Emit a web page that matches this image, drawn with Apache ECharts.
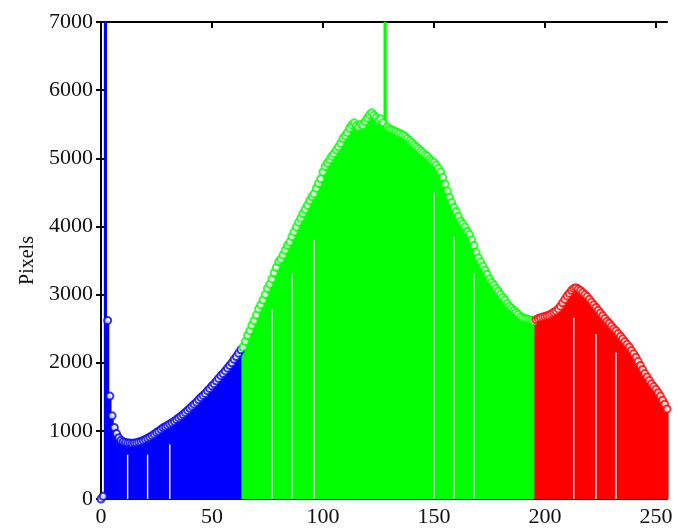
<!DOCTYPE html>
<html lang="en">
<head>
<meta charset="UTF-8">
<title>Pixels histogram</title>
<script src="https://cdn.jsdelivr.net/npm/echarts@6/dist/echarts.min.js"></script>
<style>
  html, body { margin: 0; padding: 0; background: #fff; }
  #chartmain { width: 678px; height: 528px; }
</style>
</head>
<body>
<div id="chartmain"></div>
<script type="text/javascript">
// histogram counts, bins 0..63 / 64..195 / 196..255
var blueCounts = [
  0, 40, 7500, 2620, 1510, 1220, 1050, 960, 900, 860,
  840, 830, 820, 820, 815, 820, 825, 835, 845, 860,
  875, 890, 910, 930, 950, 975, 995, 1020, 1045, 1060,
  1080, 1100, 1120, 1140, 1165, 1190, 1215, 1240, 1270, 1300,
  1330, 1360, 1390, 1420, 1455, 1490, 1520, 1550, 1590, 1620,
  1660, 1690, 1730, 1770, 1810, 1840, 1880, 1920, 1960, 2000,
  2050, 2090, 2140, 2190
];
var greenCounts = [
  2230, 2310, 2400, 2470, 2550, 2620, 2700, 2790, 2850, 2920,
  3000, 3090, 3150, 3230, 3320, 3400, 3480, 3520, 3580, 3650,
  3720, 3770, 3850, 3920, 3990, 4060, 4120, 4190, 4250, 4310,
  4380, 4440, 4480, 4560, 4630, 4700, 4800, 4880, 4930, 4980,
  5030, 5070, 5120, 5170, 5220, 5290, 5330, 5380, 5440, 5490,
  5520, 5480, 5460, 5500, 5480, 5540, 5590, 5640, 5670, 5630,
  5600, 5560, 5580, 5520, 7500, 5460, 5430, 5420, 5400, 5390,
  5370, 5360, 5340, 5320, 5290, 5260, 5230, 5200, 5170, 5140,
  5110, 5080, 5050, 5030, 4990, 4960, 4940, 4900, 4850, 4800,
  4720, 4620, 4520, 4430, 4350, 4280, 4220, 4150, 4080, 4040,
  3990, 3930, 3880, 3800, 3720, 3620, 3540, 3480, 3420, 3360,
  3300, 3230, 3180, 3140, 3090, 3050, 3000, 2960, 2920, 2870,
  2830, 2800, 2770, 2740, 2710, 2680, 2660, 2650, 2640, 2630,
  2620, 2610
];
var redCounts = [
  2630, 2650, 2660, 2670, 2680, 2690, 2700, 2720, 2740, 2760,
  2790, 2830, 2880, 2930, 2980, 3020, 3060, 3090, 3100, 3080,
  3060, 3030, 3000, 2970, 2930, 2890, 2850, 2810, 2770, 2730,
  2690, 2650, 2610, 2580, 2540, 2500, 2470, 2430, 2390, 2350,
  2310, 2270, 2230, 2180, 2130, 2080, 2020, 1960, 1900, 1840,
  1790, 1740, 1690, 1650, 1610, 1560, 1510, 1450, 1390, 1320
];
// thin white gaps seen inside the filled area
var gapBins = [12, 21, 31, 77, 86, 96, 150, 159, 168, 213, 223, 232];
var gapHeights = [650, 650, 800, 2780, 3300, 3800, 4500, 3850, 3310, 2660, 2420, 2150];
var xTicks = [0, 50, 100, 150, 200, 250];

var groups = [
  {counts: blueCounts, color: '#0000ff'},
  {counts: greenCounts, color: '#00ff00'},
  {counts: redCounts, color: '#ff0000'}
];
var barData = [], dotData = [];
var bin = 0;
groups.forEach(function (g) {
  g.counts.forEach(function (v) {
    barData.push({value: [bin, v], itemStyle: {color: g.color}});
    dotData.push({value: [bin, v], itemStyle: {color: g.color, borderColor: g.color}});
    bin++;
  });
});
var gapData = gapBins.map(function (b, i) { return [b, gapHeights[i]]; });

var serif = '"Liberation Serif", "DejaVu Serif", serif';
var myChart = echarts.init(document.getElementById('chartmain'));
var option = {
  animation: false,
  backgroundColor: '#fff',
  grid: {left: 101, right: 11, top: 22, bottom: 25},
  xAxis: [{
    type: 'value', min: 0, max: 255, interval: 50,
    axisLine: {onZero: false, lineStyle: {color: '#000', width: 2}},
    axisTick: {inside: true, length: 6, customValues: xTicks, lineStyle: {color: '#000', width: 2}},
    axisLabel: {color: '#111', fontFamily: serif, fontSize: 22, margin: 7, customValues: xTicks},
    splitLine: {show: false}
  }, {
    type: 'value', min: 0, max: 255, interval: 50, position: 'top',
    axisLine: {onZero: false, lineStyle: {color: '#000', width: 2}},
    axisTick: {inside: true, length: 6, customValues: xTicks, lineStyle: {color: '#000', width: 2}},
    axisLabel: {show: false},
    splitLine: {show: false}
  }],
  yAxis: [{
    type: 'value', min: 0, max: 7000, interval: 1000,
    name: 'Pixels', nameLocation: 'middle', nameGap: 62,
    nameTextStyle: {color: '#111', fontFamily: serif, fontSize: 20},
    axisLine: {show: true, lineStyle: {color: '#000', width: 2}},
    axisTick: {show: true, inside: true, length: 5, lineStyle: {color: '#000', width: 2}},
    axisLabel: {
      color: '#111', fontFamily: serif, fontSize: 22, margin: 8,
      formatter: function (v) { return String(v); }
    },
    splitLine: {show: false}
  }, {
    type: 'value', min: 0, max: 7000, interval: 1000, position: 'right',
    axisLine: {show: true, lineStyle: {color: '#000', width: 2}},
    axisTick: {show: true, inside: true, length: 5, lineStyle: {color: '#000', width: 2}},
    axisLabel: {show: false},
    splitLine: {show: false}
  }],
  series: [{
    type: 'bar', xAxisIndex: 0, yAxisIndex: 0,
    data: barData, barWidth: 3.2, clip: true
  }, {
    type: 'bar', xAxisIndex: 1, yAxisIndex: 0,
    data: gapData, barWidth: 1.4, clip: true,
    itemStyle: {color: '#ffffff'}
  }, {
    type: 'scatter', xAxisIndex: 0, yAxisIndex: 0,
    data: dotData, symbol: 'emptyCircle', symbolSize: 7, clip: true,
    itemStyle: {borderWidth: 1.3}
  }]
};
myChart.setOption(option);
</script>
</body>
</html>
